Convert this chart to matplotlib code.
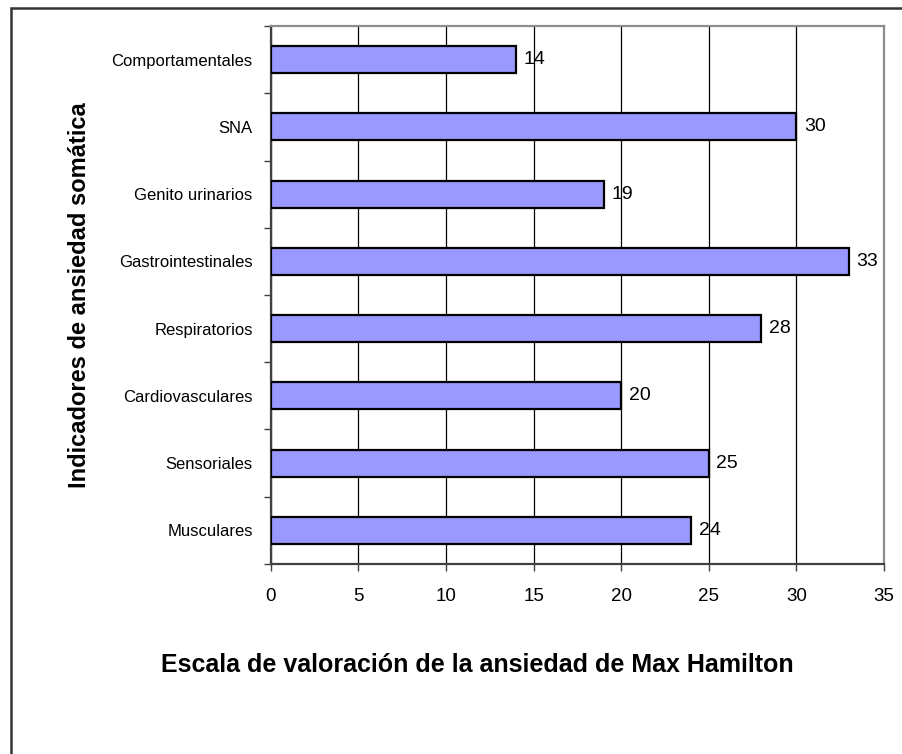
import matplotlib.pyplot as plt
from matplotlib.patches import Rectangle

# categories from bottom to top, as in the chart
categorias = ['Musculares', 'Sensoriales', 'Cardiovasculares', 'Respiratorios',
              'Gastrointestinales', 'Genito urinarios', 'SNA', 'Comportamentales']
valores = [24, 25, 20, 28, 33, 19, 30, 14]
x_ticks = [0, 5, 10, 15, 20, 25, 30, 35]

narrow = ['Liberation Sans Narrow', 'Liberation Sans', 'DejaVu Sans']
plt.rcParams['font.family'] = ['Liberation Sans', 'DejaVu Sans']

fig = plt.figure(figsize=(9.03, 7.54), dpi=100)
ax = fig.add_axes([0.2998, 0.252, 0.6792, 0.7135])

pos = list(range(len(categorias)))
ax.barh(pos, valores, height=0.4, color='#9999ff', edgecolor='black',
        linewidth=1.6, zorder=3)

# value labels next to each bar
for p, v in zip(pos, valores):
    ax.annotate(str(v), (v, p), xytext=(5.5, 0), textcoords='offset points',
                va='center', ha='left', fontsize=14)

ax.set_xlim(0, 35)
ax.set_ylim(-0.5, len(categorias) - 0.5)
ax.set_xticks(x_ticks)
ax.tick_params(axis='x', labelsize=13.5, length=5, width=1, color='#404040', pad=12)

# category names centered, ticks at the boundaries
ax.set_yticks(pos)
ax.set_yticklabels(categorias, family=narrow, fontsize=12)
ax.tick_params(axis='y', which='major', length=0, pad=13)
ax.set_yticks([p - 0.5 for p in pos] + [len(pos) - 0.5], minor=True)
ax.tick_params(axis='y', which='minor', length=5, width=1, color='#404040')

ax.grid(axis='x', color='black', linewidth=0.9, zorder=0)
ax.set_axisbelow(True)

for s in ['left', 'bottom']:
    ax.spines[s].set_color('#404040')
    ax.spines[s].set_linewidth(1.6)
for s in ['top', 'right']:
    ax.spines[s].set_color('#8c8c8c')
    ax.spines[s].set_linewidth(1.6)

fig.text(80 / 903, 1 - 295 / 754, 'Indicadores de ansiedad somática',
         rotation=90, ha='center', va='center', fontsize=17,
         fontweight='bold', family=narrow)
fig.text(477 / 903, 1 - 665 / 754,
         'Escala de valoración de la ansiedad de Max Hamilton',
         ha='center', va='center', fontsize=18, fontweight='bold', family=narrow)

# outer chart border (runs off the right and bottom edges)
fig.patches.append(Rectangle((11 / 903, -0.1), 1.2, 1.1 - 8 / 754,
                             transform=fig.transFigure, fill=False,
                             edgecolor='#333333', linewidth=1.8))

plt.savefig('out.png', dpi=100)
